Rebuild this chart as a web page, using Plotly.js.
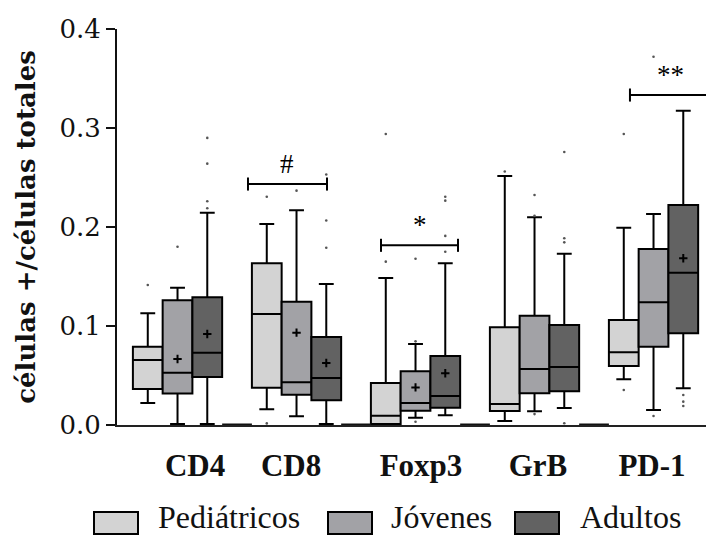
<!DOCTYPE html>
<html><head><meta charset="utf-8">
<script src="https://cdn.plot.ly/plotly-3.0.1.min.js"></script>
<style>html,body{margin:0;padding:0;background:#fff}#chart{width:706px;height:536px}</style>
</head><body><div id="chart"></div>
<script>
// ---------- data ----------
const categories = ['CD4', 'CD8', 'Foxp3', 'GrB', 'PD-1'];
const seriesNames = ['Pediátricos', 'Jóvenes', 'Adultos'];

const pedLowerFence = [0.0222, 0.0158, 0.0000, 0.0040, 0.0461];
const pedQ1         = [0.0364, 0.0377, 0.0010, 0.0141, 0.0596];
const pedMedian     = [0.0657, 0.1121, 0.0094, 0.0212, 0.0734];
const pedQ3         = [0.0791, 0.1633, 0.0424, 0.0987, 0.1060];
const pedUpperFence = [0.1128, 0.2030, 0.1485, 0.2515, 0.1993];
const pedMean       = [null, null, null, null, null];
const pedOutliers   = [[0.1414], [0.2306, 0.0016], [0.294, 0.165], [0.256], [0.294, 0.0354]];

const jovLowerFence = [0.0010, 0.0088, 0.0074, 0.0138, 0.0152];
const jovQ1         = [0.0317, 0.0306, 0.0145, 0.0320, 0.0791];
const jovMedian     = [0.0529, 0.0431, 0.0222, 0.0566, 0.1239];
const jovQ3         = [0.1259, 0.1246, 0.0542, 0.1104, 0.1778];
const jovUpperFence = [0.1387, 0.2168, 0.0818, 0.2098, 0.2131];
const jovMean       = [0.0667, 0.0933, 0.0380, null, null];
const jovOutliers   = [[0.180], [0.2367], [0.168, 0.0845, 0.0033], [0.2323, 0.2114, 0.011], [0.372, 0.0091]];

const aduLowerFence = [0.0010, 0.0010, 0.0098, 0.0172, 0.0370];
const aduQ1         = [0.0485, 0.0249, 0.0175, 0.0340, 0.0926];
const aduMedian     = [0.0731, 0.0475, 0.0293, 0.0586, 0.1539];
const aduQ3         = [0.1290, 0.0889, 0.0697, 0.1010, 0.2222];
const aduUpperFence = [0.2145, 0.1424, 0.1633, 0.1730, 0.3175];
const aduMean       = [0.0919, 0.0626, 0.0522, null, 0.1684];
const aduOutliers   = [[0.290, 0.264, 0.226, 0.219], [0.2530, 0.2066, 0.179], [0.2306, 0.2266, 0.191, 0.175], [0.2758, 0.1886, 0.1845, 0.0017], [0.0303, 0.0236, 0.0192]];

// empty separator slot after each of the first four groups (drawn at zero)
const spacerValues = [0, 0, 0, 0];

const sigCategories = ['CD8', 'Foxp3', 'PD-1'];
const sigLabels     = ['#', '*', '**'];
const sigLevels     = [0.2434, 0.1815, 0.3333];

const yTicks = [0, 0.1, 0.2, 0.3, 0.4];

// ---------- styles / layout constants ----------
const colors = ['#d3d3d3', '#a2a2a6', '#626262'];
const seriesOffset = [-0.375, -0.125, 0.125];
const spacerOffset = 0.375;
const slotWidth = 0.25;
const labelShift = [0.022, -0.171, -0.079, -0.096, -0.138];
const sigSpan = [[-0.533, 0.131], [-0.415, 0.232], [-0.323, 0.366]];
const SERIF = '"Liberation Serif", "Times New Roman", serif';
const WIDE_SERIF = '"DejaVu Serif", serif';

const stats = [
  {lf: pedLowerFence, q1: pedQ1, md: pedMedian, q3: pedQ3, uf: pedUpperFence, mean: pedMean, out: pedOutliers},
  {lf: jovLowerFence, q1: jovQ1, md: jovMedian, q3: jovQ3, uf: jovUpperFence, mean: jovMean, out: jovOutliers},
  {lf: aduLowerFence, q1: aduQ1, md: aduMedian, q3: aduQ3, uf: aduUpperFence, mean: aduMean, out: aduOutliers}
];

const traces = [];
stats.forEach((s, i) => {
  traces.push({
    type: 'box', name: seriesNames[i],
    x: categories.map((c, k) => k + seriesOffset[i]),
    q1: s.q1, median: s.md, q3: s.q3, lowerfence: s.lf, upperfence: s.uf,
    width: slotWidth, whiskerwidth: 0.5, boxpoints: false,
    fillcolor: colors[i], line: {color: '#000', width: 2},
    showlegend: false, hoverinfo: 'skip'
  });
});
// spacer slots
traces.push({
  type: 'box', name: 'spacer',
  x: spacerValues.map((v, k) => k + spacerOffset),
  q1: spacerValues, median: spacerValues, q3: spacerValues,
  lowerfence: spacerValues, upperfence: spacerValues,
  width: slotWidth, whiskerwidth: 0, boxpoints: false,
  fillcolor: '#111', line: {color: '#111', width: 3},
  showlegend: false, hoverinfo: 'skip'
});
// outliers
stats.forEach((s, i) => {
  const xs = [], ys = [];
  s.out.forEach((arr, k) => arr.forEach(v => { xs.push(k + seriesOffset[i]); ys.push(v); }));
  traces.push({type: 'scatter', mode: 'markers', x: xs, y: ys,
    marker: {size: 2.6, color: '#555'}, showlegend: false, hoverinfo: 'skip', cliponaxis: false});
});
// means
stats.forEach((s, i) => {
  const xs = [], ys = [];
  s.mean.forEach((v, k) => { if (v !== null) { xs.push(k + seriesOffset[i]); ys.push(v); } });
  traces.push({type: 'scatter', mode: 'markers', x: xs, y: ys,
    marker: {symbol: 'cross-thin', size: 6, line: {color: '#000', width: 2}},
    showlegend: false, hoverinfo: 'skip'});
});
// significance brackets
const capHalf = 0.0066;
const annotations = [];
sigCategories.forEach((c, j) => {
  const k = categories.indexOf(c);
  const x0 = k + sigSpan[j][0], x1 = k + sigSpan[j][1], lv = sigLevels[j];
  traces.push({type: 'scatter', mode: 'lines',
    x: [x0, x0, null, x0, x1, null, x1, x1],
    y: [lv - capHalf, lv + capHalf, null, lv, lv, null, lv - capHalf, lv + capHalf],
    line: {color: '#000', width: 2}, connectgaps: false, showlegend: false, hoverinfo: 'skip'});
  annotations.push({x: (x0 + x1) / 2, y: lv, xref: 'x', yref: 'y', text: sigLabels[j],
    showarrow: false, yshift: 20, font: {family: SERIF, size: 27, color: '#000'}});
});

// custom legend (pixel positions converted to paper coords)
const L = 117, PW = 589, B = 425, PH = 396;
const px = v => (v - L) / PW;
const py = v => (B - v) / PH;
const legSwatchX = [94, 328, 515];
const legTextX = [157, 390, 579];
const shapes = [];
seriesNames.forEach((n, i) => {
  shapes.push({type: 'rect', xref: 'paper', yref: 'paper',
    x0: px(legSwatchX[i]), x1: px(legSwatchX[i] + 44), y0: py(534), y1: py(512),
    fillcolor: colors[i], line: {color: '#000', width: 2}});
  annotations.push({xref: 'paper', yref: 'paper', x: px(legTextX[i]), y: py(536),
    xanchor: 'left', yanchor: 'bottom', text: n, showarrow: false, borderpad: 0,
    font: {family: SERIF, size: 32, color: '#111'}});
});

const layout = {
  width: 706, height: 536,
  margin: {l: 117, r: 0, t: 29, b: 111},
  paper_bgcolor: '#fff', plot_bgcolor: '#fff',
  boxmode: 'overlay',
  showlegend: false,
  xaxis: {
    range: [-0.6336, 4.316], showgrid: false, zeroline: false,
    showline: true, linecolor: '#222', linewidth: 1.5,
    tickvals: categories.map((c, k) => k + labelShift[k]), ticktext: categories,
    ticks: '', ticklabelstandoff: 12,
    tickfont: {family: SERIF, size: 31, color: '#111', weight: 'bold'}
  },
  yaxis: {
    range: [0, 0.4], showgrid: false, zeroline: false,
    showline: true, linecolor: '#111', linewidth: 2,
    tickvals: yTicks, tickformat: '.1f',
    ticks: 'outside', ticklen: 9, tickwidth: 2, tickcolor: '#111',
    tickfont: {family: WIDE_SERIF, size: 26, color: '#111'},
    title: {text: 'células +/células totales', standoff: 16,
      font: {family: WIDE_SERIF, size: 26, color: '#111', weight: 'bold'}}
  },
  annotations: annotations,
  shapes: shapes
};

Plotly.newPlot('chart', traces, layout, {displayModeBar: false, staticPlot: true});
</script>
</body></html>
